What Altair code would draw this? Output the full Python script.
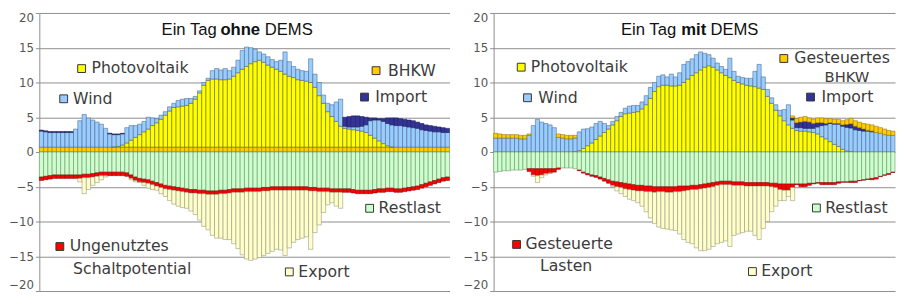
import altair as alt
import pandas as pd

N_BARS = 96

# ---------------- LEFT PANEL: "Ein Tag ohne DEMS" ----------------
left_bhkw = [0.7, 0.7, 0.7, 0.7, 0.7, 0.7, 0.7, 0.7, 0.7, 0.7, 0.7, 0.7, 0.7, 0.7, 0.7, 0.7,
             0.7, 0.7, 0.7, 0.7, 0.7, 0.7, 0.7, 0.7, 0.7, 0.7, 0.7, 0.7, 0.7, 0.7, 0.7, 0.7,
             0.7, 0.7, 0.7, 0.7, 0.7, 0.7, 0.7, 0.7, 0.7, 0.7, 0.7, 0.7, 0.7, 0.7, 0.7, 0.7,
             0.7, 0.7, 0.7, 0.7, 0.7, 0.7, 0.7, 0.7, 0.7, 0.7, 0.7, 0.7, 0.7, 0.7, 0.7, 0.7,
             0.7, 0.7, 0.7, 0.7, 0.7, 0.7, 0.7, 0.7, 0.7, 0.7, 0.7, 0.7, 0.7, 0.7, 0.7, 0.7,
             0.7, 0.7, 0.7, 0.7, 0.7, 0.7, 0.7, 0.7, 0.7, 0.7, 0.7, 0.7, 0.7, 0.7, 0.7, 0.7]
left_pv = [0, 0, 0, 0, 0, 0, 0, 0, 0, 0, 0, 0, 0, 0, 0, 0,
           0, 0.05, 0.1, 0.3, 0.6, 1.0, 1.4, 1.8, 2.2, 2.6, 3.1, 3.5, 4.0, 4.6, 5.2, 5.7,
           5.8, 5.9, 6.0, 6.3, 6.9, 7.8, 8.9, 9.6, 9.8, 9.8, 9.7, 9.7, 9.8, 10.2, 10.7, 11.2,
           11.6, 12.0, 12.3, 12.5, 12.2, 11.8, 11.5, 11.2, 10.9, 10.5, 10.2, 10.0, 9.7, 9.6, 9.5, 9.3,
           8.6, 7.4, 6.3, 5.1, 4.4, 3.7, 3.0, 2.7, 2.6, 2.5, 2.4, 2.3, 2.1, 1.7, 1.3, 0.9,
           0.5, 0.2, 0.05, 0, 0, 0, 0, 0, 0, 0, 0, 0, 0, 0, 0, 0]
left_wind = [2.3, 2.2, 2.1, 2.1, 2.1, 2.1, 2.1, 2.1, 2.6, 3.8, 4.7, 4.2, 3.9, 3.6, 3.3, 2.7,
             1.9, 1.75, 1.7, 1.6, 2.2, 2.1, 1.7, 1.5, 1.5, 1.7, 1.1, 0.6, 0.6, 0.5, 0.6, 0.6,
             0.9, 1.0, 1.0, 0.7, 0.4, 0.3, 0.4, 0.3, 1.2, 1.5, 1.4, 1.6, 1.2, 1.3, 1.8, 2.7,
             2.8, 2.3, 1.8, 1.2, 1.2, 1.2, 1.1, 1.1, 1.6, 3.2, 2.1, 1.6, 1.5, 1.4, 1.4, 3.4,
             1.9, 1.9, 1.2, 1.2, 1.7, 2.8, 3.9, 0.3, 0.3, 0.4, 0.5, 0.7, 1.1, 2.1, 2.6, 3.0,
             3.2, 3.2, 3.15, 3.1, 3.1, 3.0, 2.9, 2.8, 2.7, 2.5, 2.4, 2.3, 2.2, 2.2, 2.1, 2.1]
left_import = [0.15, 0.15, 0.15, 0.15, 0.15, 0.15, 0.15, 0.15, 0, 0, 0, 0, 0, 0, 0, 0,
               0.1, 0.1, 0.1, 0.1, 0, 0, 0, 0, 0, 0, 0, 0, 0, 0, 0, 0,
               0, 0, 0, 0, 0, 0, 0, 0, 0, 0, 0, 0, 0, 0, 0, 0,
               0, 0, 0, 0, 0, 0, 0, 0, 0, 0, 0, 0, 0, 0, 0, 0,
               0, 0, 0, 0, 0, 0, 0, 1.3, 1.5, 1.6, 1.6, 1.4, 1.1, 0.4, 0.3, 0.2,
               0.4, 0.8, 1.0, 1.1, 1.0, 1.0, 1.0, 1.0, 0.9, 0.9, 0.8, 0.8, 0.8, 0.7, 0.7, 0.6]
left_restlast = [3.6, 3.5, 3.4, 3.3, 3.3, 3.3, 3.3, 3.3, 3.3, 3.3, 3.2, 3.2, 3.1, 3.0, 2.9, 2.9,
                 2.9, 2.9, 2.9, 2.9, 3.0, 3.3, 3.6, 3.8, 3.9, 4.0, 4.2, 4.4, 4.6, 4.8, 4.9, 5.0,
                 5.1, 5.2, 5.3, 5.4, 5.4, 5.5, 5.5, 5.6, 5.6, 5.6, 5.5, 5.5, 5.4, 5.3, 5.3, 5.3,
                 5.2, 5.2, 5.2, 5.2, 5.1, 5.1, 5.0, 5.0, 5.0, 5.0, 5.0, 5.0, 5.0, 5.0, 5.0, 5.1,
                 5.1, 5.2, 5.2, 5.2, 5.3, 5.3, 5.3, 5.3, 5.3, 5.4, 5.5, 5.5, 5.5, 5.5, 5.4, 5.3,
                 5.3, 5.2, 5.2, 5.3, 5.3, 5.2, 5.1, 5.0, 4.9, 4.7, 4.5, 4.3, 4.1, 3.9, 3.7, 3.6]
left_red = [0.5, 0.5, 0.5, 0.5, 0.5, 0.5, 0.5, 0.5, 0.5, 0.5, 0.5, 0.5, 0.5, 0.5, 0.5, 0.5,
            0.5, 0.5, 0.5, 0.5, 0.5, 0.5, 0.5, 0.5, 0.5, 0.5, 0.5, 0.5, 0.5, 0.5, 0.5, 0.5,
            0.5, 0.5, 0.5, 0.5, 0.5, 0.5, 0.5, 0.5, 0.5, 0.5, 0.5, 0.5, 0.5, 0.5, 0.5, 0.5,
            0.5, 0.5, 0.5, 0.5, 0.5, 0.5, 0.5, 0.5, 0.5, 0.5, 0.5, 0.5, 0.5, 0.5, 0.5, 0.5,
            0.5, 0.5, 0.5, 0.5, 0.5, 0.5, 0.5, 0.5, 0.5, 0.5, 0.5, 0.5, 0.5, 0.5, 0.5, 0.5,
            0.5, 0.5, 0.5, 0.5, 0.5, 0.5, 0.5, 0.5, 0.5, 0.5, 0.5, 0.5, 0.5, 0.5, 0.5, 0.5]
left_export = [0, 0, 0, 0, 0, 0, 0, 0, 0, 0.5, 2.3, 1.7, 1.2, 0.9, 0.6, 0.2,
               0, 0, 0, 0, 0, 0.2, 0.2, 0.1, 0.4, 0.7, 0.7, 0.6, 0.9, 1.1, 1.6, 2.0,
               2.2, 2.3, 2.3, 2.6, 3.1, 3.8, 4.7, 5.1, 5.9, 6.3, 6.4, 6.6, 6.7, 7.4, 8.1, 9.0,
               9.7, 9.9, 9.7, 9.5, 9.3, 9.0, 8.8, 8.5, 8.6, 9.4, 8.3, 7.5, 7.1, 6.9, 6.7, 8.4,
               6.0, 4.8, 3.0, 1.9, 1.5, 2.0, 2.3, 0, 0, 0, 0, 0, 0, 0, 0, 0,
               0, 0, 0, 0, 0, 0, 0, 0, 0, 0, 0, 0, 0, 0, 0, 0]

# ---------------- RIGHT PANEL: "Ein Tag mit DEMS" ----------------
right_pv = [0, 0, 0, 0, 0, 0, 0, 0, 0, 0, 0, 0, 0, 0, 0, 0,
            0, 0, 0, 0.05, 0.2, 0.5, 0.9, 1.3, 1.8, 2.3, 2.8, 3.3, 3.9, 4.5, 5.1, 5.5,
            5.6, 5.7, 5.8, 6.2, 6.8, 7.7, 8.7, 9.4, 9.6, 9.6, 9.5, 9.5, 9.6, 10.0, 10.5, 11.0,
            11.4, 11.8, 12.2, 12.4, 12.2, 11.8, 11.4, 11.0, 10.7, 10.3, 10.0, 9.8, 9.6, 9.5, 9.4, 9.2,
            9.0, 8.0, 7.0, 6.0, 5.2, 4.5, 3.9, 3.4, 3.1, 3.0, 3.0, 2.9, 2.8, 2.6, 2.2, 1.9,
            1.5, 1.1, 0.8, 0.4, 0.15, 0.05, 0, 0, 0, 0, 0, 0, 0, 0, 0, 0]
right_wind = [2.0, 2.0, 2.0, 2.0, 2.0, 2.0, 1.9, 1.9, 2.4, 3.8, 4.7, 4.3, 4.1, 3.9, 3.5, 2.1,
              2.0, 1.9, 1.9, 1.95, 2.7, 2.8, 2.45, 2.3, 2.3, 2.1, 1.3, 0.5, 0.5, 0.6, 0.6, 0.8,
              1.0, 1.0, 0.9, 1.0, 1.3, 1.6, 1.3, 1.5, 1.5, 1.2, 1.7, 1.3, 1.8, 2.6, 2.5, 2.4,
              2.6, 2.6, 2.0, 1.6, 1.3, 1.0, 0.9, 0.9, 2.8, 1.3, 0.9, 0.9, 1.0, 1.1, 2.2, 3.4,
              1.8, 1.0, 0.8, 0.8, 0.8, 1.6, 2.9, 1.2, 0.4, 0.5, 0.4, 0.5, 0.6, 1.0, 1.6, 2.0,
              2.6, 2.9, 3.2, 3.3, 3.4, 3.4, 3.2, 3.1, 3.0, 3.0, 2.9, 2.8, 2.7, 2.5, 2.4, 2.4]
right_import = [0, 0, 0, 0, 0, 0, 0, 0, 0, 0, 0, 0, 0, 0, 0, 0,
                0, 0, 0, 0, 0, 0, 0, 0, 0, 0, 0, 0, 0, 0, 0, 0,
                0, 0, 0, 0, 0, 0, 0, 0, 0, 0, 0, 0, 0, 0, 0, 0,
                0, 0, 0, 0, 0, 0, 0, 0, 0, 0, 0, 0, 0, 0, 0, 0,
                0, 0, 0, 0, 0, 0, 0, 0.3, 0.7, 0.8, 1.0, 0.9, 0.7, 0.6, 0.4, 0.2,
                0.1, 0.1, 0.1, 0.2, 0.4, 0.6, 0.5, 0.4, 0.3, 0.1, 0.1, 0, 0, 0, 0, 0]
right_bhkw = [0.7, 0.6, 0.5, 0.5, 0.5, 0.5, 0.5, 0.5, 0.2, 0, 0, 0, 0, 0, 0, 0.5,
              0.5, 0.5, 0.5, 0.4, 0, 0, 0, 0, 0, 0, 0, 0, 0, 0, 0, 0,
              0, 0, 0, 0, 0, 0, 0, 0, 0, 0, 0, 0, 0, 0, 0, 0,
              0, 0, 0, 0, 0, 0, 0, 0, 0, 0, 0, 0, 0, 0, 0, 0,
              0, 0, 0, 0, 0, 0, 0, 0.3, 0.6, 0.7, 0.7, 0.6, 0.6, 0.7, 0.7, 0.7,
              0.6, 0.6, 0.6, 0.6, 0.7, 0.8, 0.8, 0.8, 0.8, 0.9, 0.9, 0.9, 0.8, 0.8, 0.7, 0.6]
right_restlast = [2.9, 2.8, 2.7, 2.7, 2.6, 2.6, 2.6, 2.5, 2.4, 2.4, 2.4, 2.4, 2.4, 2.4, 2.4, 2.3,
                  2.3, 2.3, 2.3, 2.4, 2.6, 2.9, 3.1, 3.3, 3.4, 3.6, 3.8, 4.0, 4.2, 4.3, 4.4, 4.5,
                  4.6, 4.7, 4.8, 4.8, 4.9, 4.9, 5.0, 5.0, 5.0, 5.0, 5.0, 5.0, 4.9, 4.9, 4.9, 4.8,
                  4.8, 4.7, 4.6, 4.5, 4.4, 4.3, 4.2, 4.2, 4.2, 4.3, 4.3, 4.3, 4.4, 4.4, 4.4, 4.4,
                  4.4, 4.4, 4.5, 4.5, 4.6, 4.6, 4.6, 4.6, 4.6, 4.6, 4.6, 4.5, 4.5, 4.4, 4.4, 4.4,
                  4.4, 4.4, 4.3, 4.3, 4.3, 4.2, 4.2, 4.1, 4.0, 3.9, 3.8, 3.7, 3.5, 3.3, 3.1, 2.9]
right_red = [0, 0, 0, 0, 0, 0, 0, 0, 0.4, 0.9, 1.0, 0.9, 0.7, 0.6, 0.5, 0.2,
             0, 0, 0, 0, 0.1, 0.15, 0.2, 0.2, 0.25, 0.3, 0.4, 0.5, 0.6, 0.7, 0.7, 0.8,
             0.8, 0.8, 0.8, 0.8, 0.8, 0.8, 0.8, 0.7, 0.7, 0.8, 0.8, 0.7, 0.8, 0.7, 0.6, 0.6,
             0.6, 0.6, 0.6, 0.6, 0.6, 0.5, 0.5, 0.5, 0.5, 0.5, 0.5, 0.5, 0.5, 0.5, 0.5, 0.5,
             0.5, 0.5, 0.5, 0.6, 0.8, 0.9, 0.9, 0.5, 0.1, 0.4, 0.4, 0.3, 0.1, 0.1, 0.3, 0.3,
             0.3, 0.3, 0.2, 0.05, 0.05, 0.2, 0.2, 0.05, 0.05, 0.05, 0.2, 0.2, 0.05, 0.05, 0.15, 0.05]
right_export = [0, 0, 0, 0, 0, 0, 0, 0, 0, 0.2, 1.0, 0.4, 0.2, 0.1, 0, 0,
                0, 0, 0, 0, 0, 0, 0, 0, 0, 0, 0, 0, 0.2, 0.6, 0.9, 1.1,
                1.4, 1.5, 1.7, 2.2, 2.9, 3.8, 4.5, 5.1, 5.3, 5.3, 5.4, 5.6, 6.1, 7.0, 7.5, 7.8,
                8.4, 8.9, 9.0, 8.9, 8.6, 8.4, 8.3, 8.1, 8.9, 7.2, 7.0, 6.8, 6.5, 6.5, 7.1, 7.7,
                6.1, 5.1, 3.6, 2.7, 1.6, 1.5, 0.9, 1.9, 0, 0, 0, 0, 0, 0, 0, 0,
                0, 0, 0, 0, 0, 0, 0, 0, 0, 0, 0, 0, 0, 0, 0, 0]

y_ticks = [-20, -15, -10, -5, 0, 5, 10, 15, 20]

SERIES = ["BHKW", "Photovoltaik", "Wind", "Import", "Restlast", "Rot", "Export"]
FILLS = ["#FFCC00", "#FFFF00", "#99CCFF", "#333399", "#CCFFCC", "#FF0000", "#FFFFCC"]
STROKES = ["#8a6a00", "#55550f", "#3d5a80", "#15154d", "#5f7f5f", "#7a0000", "#8a8870"]

# legend annotations (label, series, square x, square y, text x, text y)
left_legend = [
    ("Photovoltaik", "Photovoltaik", 9.9, 12.0, 12.2, 12.0),
    ("Wind", "Wind", 5.7, 7.65, 7.9, 7.65),
    ("BHKW", "BHKW", 78.8, 11.7, 81.6, 11.7),
    ("Import", "Import", 76.1, 7.9, 78.6, 7.9),
    ("Restlast", "Restlast", 77.3, -8.1, 79.4, -8.1),
    ("Ungenutztes", "Rot", 4.8, -13.6, 7.1, -13.6),
    ("Export", "Export", 58.5, -17.25, 60.6, -17.25),
]
left_extra_text = [("Schaltpotential", 7.9, -16.8, "left", 16)]
right_legend = [
    ("Photovoltaik", "Photovoltaik", 6.6, 12.2, 8.9, 12.2),
    ("Wind", "Wind", 8.1, 7.8, 10.7, 7.8),
    ("Gesteuertes", "BHKW", 69.4, 13.45, 71.9, 13.45),
    ("Import", "Import", 75.8, 7.9, 78.4, 7.9),
    ("Restlast", "Restlast", 77.2, -8.05, 79.3, -8.05),
    ("Gesteuerte", "Rot", 5.5, -13.3, 7.6, -13.3),
    ("Export", "Export", 61.9, -17.2, 64.0, -17.2),
]
right_extra_text = [("BHKW", 84.5, 10.75, "center", 15), ("Lasten", 11.1, -16.4, "left", 16)]

left_title = [("Ein Tag", "normal", "right", -20), ("ohne", "bold", "center", 4), ("DEMS", "normal", "left", 29)]
right_title = [("Ein Tag", "normal", "right", -13), ("mit", "bold", "center", 5), ("DEMS", "normal", "left", 22)]
left_title_pos = (46.1, 17.5)
right_title_pos = (46.7, 17.5)


def stack_rows(pos, neg):
    rows = []
    for i in range(N_BARS):
        top = 0.0
        for name, vals in pos:
            v = vals[i]
            if v > 0:
                rows.append({"i": i, "i2": i + 1, "y0": top, "y1": top + v, "series": name})
                top += v
        bot = 0.0
        for name, vals in neg:
            v = vals[i]
            if v > 0:
                rows.append({"i": i, "i2": i + 1, "y0": bot, "y1": bot - v, "series": name})
                bot -= v
    return pd.DataFrame(rows)


left_df = stack_rows(
    [("BHKW", left_bhkw), ("Photovoltaik", left_pv), ("Wind", left_wind), ("Import", left_import)],
    [("Restlast", left_restlast), ("Rot", left_red), ("Export", left_export)],
)
right_df = stack_rows(
    [("Photovoltaik", right_pv), ("Wind", right_wind), ("Import", right_import), ("BHKW", right_bhkw)],
    [("Restlast", right_restlast), ("Rot", right_red), ("Export", right_export)],
)

x_scale = alt.Scale(domain=[0, N_BARS], nice=False, zero=False)
y_scale = alt.Scale(domain=[-20, 20], nice=False)
color_scale = alt.Scale(domain=SERIES, range=FILLS)
stroke_scale = alt.Scale(domain=SERIES, range=STROKES)

y_axis = alt.Axis(values=y_ticks, grid=True, gridColor="#8c8c8c", gridWidth=1,
                  domainColor="#8c8c8c", tickColor="#8c8c8c", tickSize=4,
                  labelFont="DejaVu Sans", labelFontSize=12, labelColor="#555555",
                  labelPadding=2, labelFlush=True, title=None)

TEXT_FONT = "DejaVu Sans"
TEXT_COLOR = "#3c3c3c"


def panel(df, legend, extra, title_parts, title_pos, width):
    bars = alt.Chart(df).mark_rect(strokeWidth=0.5).encode(
        x=alt.X("i:Q", scale=x_scale, axis=None),
        x2="i2:Q",
        y=alt.Y("y0:Q", scale=y_scale, axis=y_axis),
        y2="y1:Q",
        color=alt.Color("series:N", scale=color_scale, legend=None),
        stroke=alt.Stroke("series:N", scale=stroke_scale, legend=None),
    )
    sq_df = pd.DataFrame([{"x": l[2], "y": l[3], "series": l[1]} for l in legend])
    squares = alt.Chart(sq_df).mark_square(size=64, filled=True, opacity=1,
                                           stroke="#333333", strokeWidth=1).encode(
        x=alt.X("x:Q", scale=x_scale, axis=None),
        y=alt.Y("y:Q", scale=y_scale, axis=y_axis),
        color=alt.Color("series:N", scale=color_scale, legend=None),
    )
    tx_rows = [{"x": l[4], "y": l[5], "label": l[0]} for l in legend]
    texts = alt.Chart(pd.DataFrame(tx_rows)).mark_text(
        align="left", baseline="middle", font=TEXT_FONT, fontSize=16, color=TEXT_COLOR
    ).encode(
        x=alt.X("x:Q", scale=x_scale, axis=None),
        y=alt.Y("y:Q", scale=y_scale, axis=y_axis),
        text="label:N",
    )
    layers = [bars, squares, texts]
    for label, xx, yy, al, fs in extra:
        layers.append(
            alt.Chart(pd.DataFrame([{"x": xx, "y": yy, "label": label}])).mark_text(
                align=al, baseline="middle", font=TEXT_FONT, fontSize=fs, color=TEXT_COLOR
            ).encode(
                x=alt.X("x:Q", scale=x_scale, axis=None),
                y=alt.Y("y:Q", scale=y_scale, axis=y_axis),
                text="label:N",
            )
        )
    for label, weight, al, dx in title_parts:
        layers.append(
            alt.Chart(pd.DataFrame([{"x": title_pos[0], "y": title_pos[1], "label": label}])).mark_text(
                align=al, baseline="middle", font="Liberation Sans", fontSize=17,
                fontWeight=weight, color="#111111", dx=dx
            ).encode(
                x=alt.X("x:Q", scale=x_scale, axis=None),
                y=alt.Y("y:Q", scale=y_scale, axis=y_axis),
                text="label:N",
            )
        )
    return alt.layer(*layers).properties(width=width, height=284)


left = panel(left_df, left_legend, left_extra_text, left_title, left_title_pos, 419)
right = panel(right_df, right_legend, right_extra_text, right_title, right_title_pos, 410)

chart = alt.hconcat(left, right, spacing=12).configure(
    padding={"left": 0, "right": 0, "top": 1, "bottom": 0}
).configure_view(stroke=None)

chart.save("out.html", embed_options={"renderer": "svg", "actions": False})
